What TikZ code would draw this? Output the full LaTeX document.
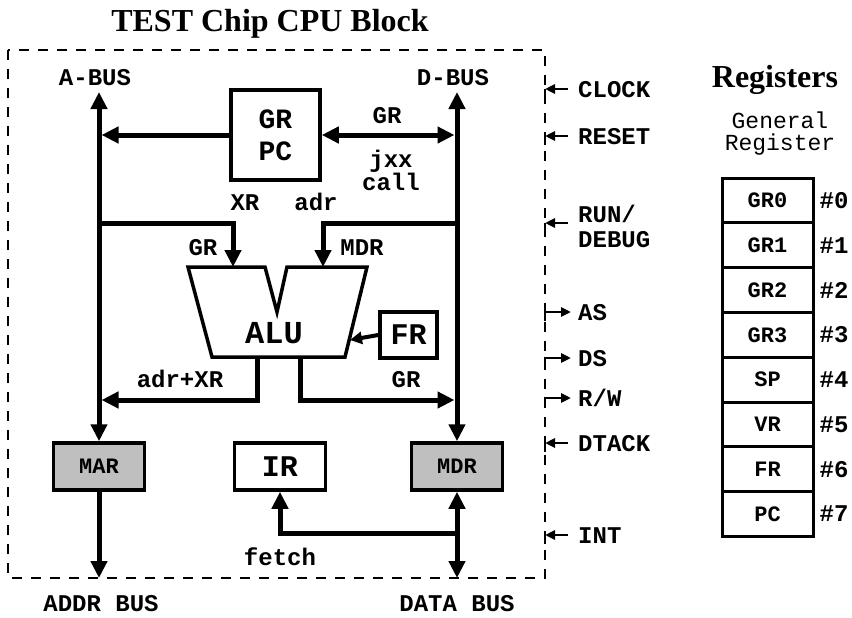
\documentclass[tikz,border=0pt]{standalone}
\usepackage{fontspec}
\setmainfont{Liberation Serif}
\setmonofont{Liberation Mono}
\usetikzlibrary{positioning,arrows.meta}

\begin{document}
\begin{tikzpicture}[
x=1pt,y=-1pt,
box/.style={
draw,
line width=3.5pt,
inner sep=0pt,
align=center,
font=\fontsize{30}{32}\selectfont\ttfamily\bfseries
},
shaded/.style={
box,
fill=black!25,
minimum width=91pt,
minimum height=47pt,
font=\fontsize{22}{22}\selectfont\ttfamily\bfseries
},
reg/.style={
draw,
line width=3pt,
minimum width=91pt,
minimum height=44.8pt,
inner sep=0pt,
font=\fontsize{22}{22}\selectfont\ttfamily\bfseries
},
lbl/.style={
inner sep=0pt,
anchor=base,
align=center,
font=\fontsize{24}{20}\selectfont\ttfamily\bfseries
},
heading/.style={
inner sep=0pt,
anchor=base,
font=\fontsize{32}{34}\selectfont\bfseries
},
bus/.style={
line width=5pt,
>={Triangle[length=17pt,width=16pt]}
},
sig/.style={
line width=2.5pt,
>={Triangle[length=10pt,width=9pt]}
},
chip/.style={
line width=2.5pt,
dash pattern=on 10pt off 9pt
}
]

\useasboundingbox (0,0) rectangle (852,618);

% Titles
\node[heading] (title) at (270,32) {TEST Chip CPU Block};
\node[heading] (regtitle) at (775,88) {Registers};

% Chip frame
\draw[chip] (8,50) rectangle (545,578);

% Bus ends and junctions
\coordinate (atop) at (99,92);
\coordinate (dtop) at (457,92);
\coordinate (abot) at (99,578);
\coordinate (dbot) at (457,578);
\coordinate (xrj) at (99,223);
\coordinate (adrj) at (457,223);
\coordinate (sumj) at (99,400);
\coordinate (grj) at (457,400);
\coordinate (fetchj) at (457,533);

\node[lbl] (abus) at (95,85) {A-BUS};
\node[lbl] (dbus) at (453,85) {D-BUS};

% GR / PC
\node[box,minimum width=89pt,minimum height=90pt,
font=\fontsize{28}{32}\selectfont\ttfamily\bfseries] (gpc) at (275.5,135) {GR\\PC};

% ALU
\draw[line width=3.5pt] (188,267) -- (265,267) -- (277,312) -- (287,267)
-- (367,267) -- (345,357) -- (212,357) -- cycle;
\node[box,draw=none,font=\fontsize{32}{32}\selectfont\ttfamily\bfseries,anchor=base] (alu) at (274,343) {ALU};
\coordinate (alu-a) at (233,267);
\coordinate (alu-b) at (323,267);
\coordinate (alu-c) at (257,357);
\coordinate (alu-d) at (300,357);
\coordinate (alu-f) at (350,340);

\node[box,minimum width=57pt,minimum height=46pt] (fr) at (408.5,335) {FR};

% Registers at the bottom
\node[shaded] (mar) at (99,466.5) {MAR};
\node[box,minimum width=91pt,minimum height=47pt] (ir) at (280,466.5) {IR};
\node[shaded] (mdr) at (457,466.5) {MDR};

% arrows
\draw[bus,<->] (atop) -- (mar.north);
\draw[bus,->] (mar.south) -- (abot);
\draw[bus,<->] (dtop) -- (mdr.north);
\draw[bus,<->] (mdr.south) -- (dbot);
\draw[bus,->,shorten >=2.5pt] (gpc.west) -- (gpc.west -| atop);
\draw[bus,<->,shorten >=2.5pt] (gpc.east) -- (gpc.east -| dtop);
\draw[bus,->] (xrj) -| (alu-a);
\draw[bus,->] (adrj) -| (alu-b);
\draw[bus,->,shorten >=2.5pt] (alu-c) |- (sumj);
\draw[bus,->,shorten >=2.5pt] (alu-d) |- (grj);
\draw[line width=4pt,-{Triangle[length=12pt,width=12pt]}] (fr.west) -- (alu-f);
\draw[bus,->] (fetchj) -| (ir.south);

% labels
\node[lbl] (grl) at (387,123) {GR};
\node[lbl,anchor=north] (jxx) at (391,150) {jxx\\call};
\node[lbl] (xr) at (245,210) {XR};
\node[lbl] (adr) at (316,210) {adr};
\node[lbl] (gra) at (203,255) {GR};
\node[lbl] (mdra) at (362,255) {MDR};
\node[lbl] (sum) at (180,387) {adr+XR};
\node[lbl] (grb) at (406,387) {GR};
\node[lbl] (fetch) at (280,565) {fetch};
\node[lbl] (addr) at (101,611) {ADDR BUS};
\node[lbl] (data) at (457,611) {DATA BUS};

% control signals
\foreach \n/\y/\t in {clock/89/CLOCK,reset/136/RESET,dtack/443/DTACK,int/535/INT}{
\coordinate (\n) at (545,\y);
\node[lbl,anchor=base west] (\n-l) at (578,\y+8) {\t};
\draw[sig,->] (\n) ++(23,0) -- (\n);
\draw[sig] (\n) -- ++(0,9);
}
\coordinate (run) at (545,223);
\node[lbl,anchor=west,align=left,font=\fontsize{24}{25}\selectfont\ttfamily\bfseries] (run-l) at (578,226) {RUN/\\DEBUG};
\draw[sig,->] (run) ++(23,0) -- (run);
\draw[sig] (run) -- ++(0,9);
\foreach \n/\y/\t in {as/312/AS,ds/358/DS,rw/398/{R/W}}{
\coordinate (\n) at (545,\y);
\node[lbl,anchor=base west] (\n-l) at (578,\y+8) {\t};
\draw[sig,->] (\n) ++(0,9) |- ++(26,-9);
}

% General register file
\node[lbl,font=\fontsize{23}{22}\selectfont\ttfamily] (gen) at (780,150) {General\\Register};
\foreach \r [count=\i from 0] in {GR0,GR1,GR2,GR3,SP,VR,FR,PC}{
\node[reg] (r\i) at (767.5,200.4+44.8*\i) {\r};
\node[lbl,anchor=west,right=5pt of r\i] (n\i) {\#\i};
}

\end{tikzpicture}
\end{document}
